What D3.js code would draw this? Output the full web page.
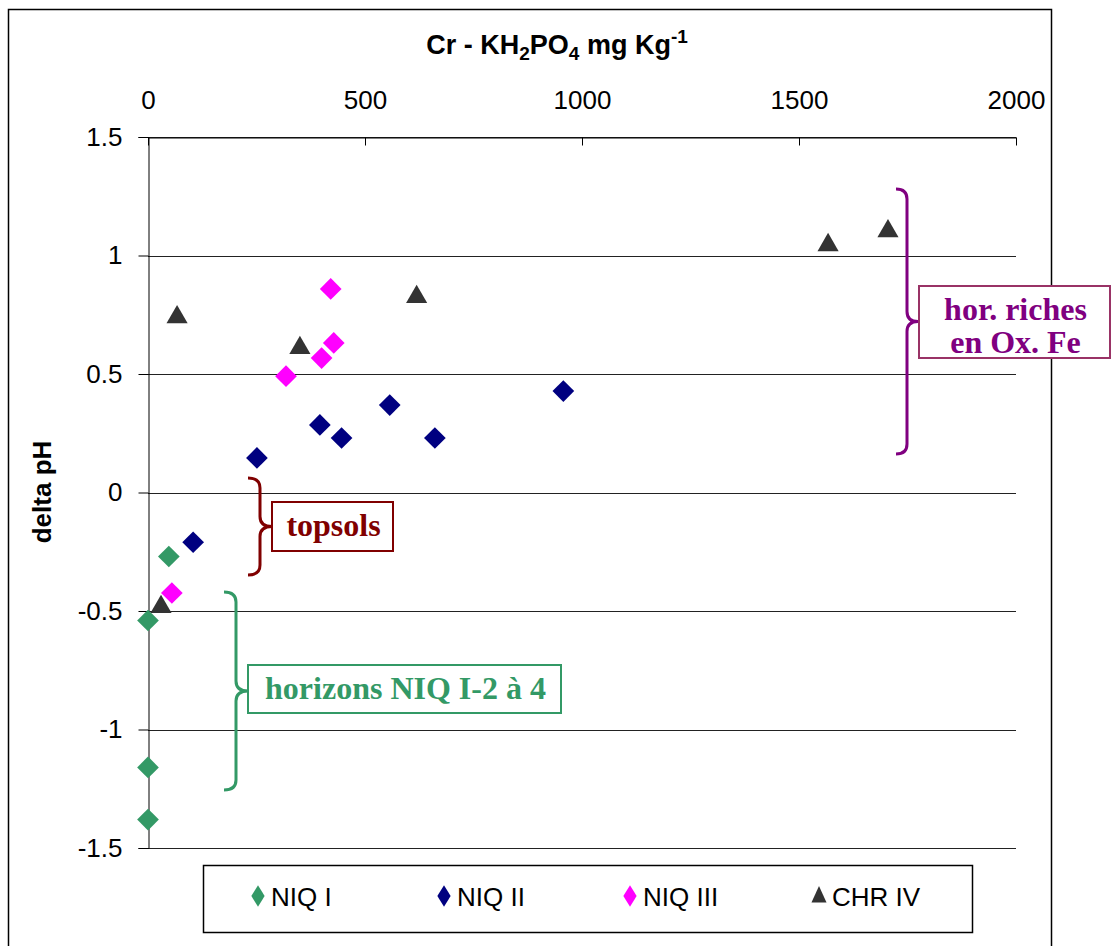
<!DOCTYPE html>
<html>
<head>
<meta charset="utf-8">
<script src="https://cdn.jsdelivr.net/npm/d3@7"></script>
<style>
  body { margin: 0; background: #fff; }
  svg { display: block; }
</style>
</head>
<body>
<svg id="chart" width="1115" height="946"></svg>
<script>
// données
const niq1 = [[0, -0.54], [48, -0.27], [0, -1.16], [0, -1.38]];
const niq2 = [[104, -0.21], [251, 0.146], [396, 0.285], [446, 0.23], [557, 0.369], [661, 0.23], [957, 0.428]];
const niq3 = [[421, 0.859], [428, 0.631], [400, 0.567], [318, 0.491], [55, -0.424]];
const chr4 = [[67, 0.74], [350, 0.61], [619, 0.825], [30, -0.483], [1567, 1.044], [1705, 1.103]];

const xTicks = [0, 500, 1000, 1500, 2000];
const yTicks = [1.5, 1, 0.5, 0, -0.5, -1, -1.5];

const series = [
  {name: "NIQ I", data: niq1, color: "#339966", shape: "diamond"},
  {name: "NIQ II", data: niq2, color: "#000080", shape: "diamond"},
  {name: "NIQ III", data: niq3, color: "#ff00ff", shape: "diamond"},
  {name: "CHR IV", data: chr4, color: "#333333", shape: "triangle"}
];

const svg = d3.select("#chart");
const plotL = 148, plotR = 1016, plotT = 137, plotB = 848;
const sans = "Liberation Sans, Arial, sans-serif";

const x = d3.scaleLinear().domain([0, 2000]).range([plotL, plotR]);
const y = d3.scaleLinear().domain([-1.5, 1.5]).range([plotB, plotT]);

// cadre extérieur
svg.append("rect")
  .attr("x", 8.5).attr("y", 9.5)
  .attr("width", 1043).attr("height", 960)
  .attr("fill", "none").attr("stroke", "#000").attr("stroke-width", 1.5);

// quadrillage horizontal
svg.append("g").selectAll("line")
  .data(yTicks)
  .enter().append("line")
  .attr("x1", plotL).attr("x2", plotR)
  .attr("y1", d => Math.round(y(d)) + 0.5).attr("y2", d => Math.round(y(d)) + 0.5)
  .attr("stroke", "#222").attr("stroke-width", 1);

// axe y
const yAxis = svg.append("g")
  .attr("transform", "translate(" + (plotL + 0.5) + ",0)")
  .call(d3.axisLeft(y).tickValues(yTicks).tickSize(10).tickPadding(16).tickFormat(d => String(d)));
yAxis.select(".domain").attr("stroke", "#000");
yAxis.selectAll(".tick line").attr("stroke", "#000");
yAxis.selectAll("text")
  .attr("font-family", sans)
  .attr("font-size", 26).attr("fill", "#000");

// axe x en haut, graduations vers l'intérieur
const xAxis = svg.append("g")
  .attr("transform", "translate(0," + (plotT + 0.5) + ")")
  .call(d3.axisTop(x).tickValues(xTicks).tickSizeInner(-8).tickSizeOuter(0).tickPadding(29).tickFormat(d => String(d)));
xAxis.select(".domain").attr("stroke", "#000");
xAxis.selectAll(".tick line").attr("stroke", "#000");
xAxis.selectAll("text")
  .attr("font-family", sans)
  .attr("font-size", 26).attr("fill", "#000");

// titre de l'axe x
const title = svg.append("text")
  .attr("x", 557).attr("y", 54)
  .attr("text-anchor", "middle")
  .attr("font-family", sans)
  .attr("font-weight", "bold").attr("font-size", 27);
title.append("tspan").text("Cr - KH");
title.append("tspan").attr("font-size", 19).attr("dy", 6).text("2");
title.append("tspan").attr("dy", -6).text("PO");
title.append("tspan").attr("font-size", 19).attr("dy", 6).text("4");
title.append("tspan").attr("dy", -6).text(" mg Kg");
title.append("tspan").attr("font-size", 19).attr("dy", -11).text("-1");

// titre de l'axe y
svg.append("text")
  .attr("transform", "translate(51,492) rotate(-90)")
  .attr("text-anchor", "middle")
  .attr("font-family", sans)
  .attr("font-weight", "bold").attr("font-size", 26)
  .text("delta pH");

// accolades d'annotation
function brace(xs, y0, y1, w, color) {
  const ym = (y0 + y1) / 2;
  const r = 10;
  const p = d3.path();
  p.moveTo(xs, y0);
  p.quadraticCurveTo(xs + w, y0, xs + w, y0 + r);
  p.lineTo(xs + w, ym - r);
  p.quadraticCurveTo(xs + w, ym, xs + 2 * w, ym);
  p.quadraticCurveTo(xs + w, ym, xs + w, ym + r);
  p.lineTo(xs + w, y1 - r);
  p.quadraticCurveTo(xs + w, y1, xs, y1);
  svg.append("path").attr("d", p.toString())
    .attr("fill", "none").attr("stroke", color).attr("stroke-width", 3);
}

function labelBox(x0, y0, w, h, stroke, color, lines, cy) {
  svg.append("rect")
    .attr("x", x0).attr("y", y0).attr("width", w).attr("height", h)
    .attr("fill", "#fff").attr("stroke", stroke).attr("stroke-width", 2);
  lines.forEach((t, i) => {
    svg.append("text")
      .attr("x", x0 + w / 2 + 1).attr("y", cy + i * 33)
      .attr("text-anchor", "middle")
      .attr("font-family", "Liberation Serif, Times New Roman, serif")
      .attr("font-weight", "bold").attr("font-size", 32)
      .attr("fill", color).text(t);
  });
}

brace(248, 478, 575, 12, "#800000");
labelBox(272, 502, 121, 49, "#800000", "#800000", ["topsols"], 536);

brace(224, 592, 790, 12, "#339966");
labelBox(248, 665, 313, 48, "#339966", "#339966", ["horizons NIQ I-2 à 4"], 699);

brace(896, 189, 454, 11, "#800080");
labelBox(919, 286, 191, 72, "#993366", "#800080", ["hor. riches", "en Ox. Fe"], 320);

// marqueurs
const diamond = d3.symbol().type(d3.symbolDiamond2).size(300);
const triangle = d3.symbol().type(d3.symbolTriangle2).size(320);

series.forEach(s => {
  svg.append("g").selectAll("path")
    .data(s.data)
    .enter().append("path")
    .attr("transform", d => "translate(" + x(d[0]) + "," + y(d[1]) + ")")
    .attr("d", s.shape === "diamond" ? diamond : triangle)
    .attr("fill", s.color);
});

// légende
svg.append("rect")
  .attr("x", 203.5).attr("y", 865.5).attr("width", 769).attr("height", 67)
  .attr("fill", "#fff").attr("stroke", "#000").attr("stroke-width", 1.5);

const legendX = [258, 444, 630, 819];
const leg = svg.append("g").selectAll("g")
  .data(series)
  .enter().append("g")
  .attr("transform", (d, i) => "translate(" + legendX[i] + ",896)");
leg.append("path")
  .attr("d", d => d.shape === "diamond"
    ? d3.symbol().type(d3.symbolDiamond2).size(200)()
    : d3.symbol().type(d3.symbolTriangle2).size(200)())
  .attr("transform", d => d.shape === "diamond" ? "scale(0.75,1.2)" : "translate(0,1) scale(0.9,1.15)")
  .attr("fill", d => d.color);
leg.append("text")
  .attr("x", 13).attr("y", 10)
  .attr("font-family", sans)
  .attr("font-size", 26)
  .text(d => d.name);
</script>
</body>
</html>
